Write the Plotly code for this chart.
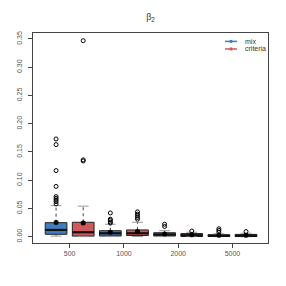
import plotly.graph_objects as go

# ---- data ----
sizes = ["500", "1000", "2000", "5000"]

mix_q1 = [0.0042, 0.0012, 0.0012, 0.0003]
mix_med = [0.0119, 0.0060, 0.0038, 0.0015]
mix_q3 = [0.0248, 0.0106, 0.0070, 0.0035]
mix_lo = [0.0010, 0.0002, 0.0001, 0.0000]
mix_hi = [0.0550, 0.0220, 0.0106, 0.0052]
mix_mean = [0.0250, 0.0078, 0.0048, 0.0025]
mix_out = [
    [0.173, 0.163, 0.117, 0.089, 0.071, 0.068, 0.065, 0.062, 0.058],
    [0.042, 0.031, 0.029, 0.026, 0.024],
    [0.022, 0.018],
    [0.014, 0.011, 0.008],
]

crit_q1 = [0.0010, 0.0020, 0.0003, 0.0002]
crit_med = [0.0078, 0.0060, 0.0025, 0.0015]
crit_q3 = [0.0255, 0.0119, 0.0055, 0.0040]
crit_lo = [0.0000, 0.0003, 0.0000, 0.0000]
crit_hi = [0.0540, 0.0255, 0.0078, 0.0060]
crit_mean = [0.0243, 0.0090, 0.0035, 0.0025]
crit_out = [
    [0.347, 0.136, 0.134],
    [0.044, 0.040, 0.037, 0.034, 0.031],
    [0.010],
    [0.009],
]

y_ticks = [0.00, 0.05, 0.10, 0.15, 0.20, 0.25, 0.30, 0.35]
series_names = ["mix", "criteria"]

MIX_COLOR = "#3F7EBE"
CRIT_COLOR = "#D05A5A"
FONT = "Liberation Sans, Arial, sans-serif"

fig = go.Figure()


def add_series(color, pos, q1, med, q3, lo, hi, mean, out):
    half = 0.4
    cap = 0.2
    fig.add_trace(go.Box(
        x=pos, q1=q1, median=med, q3=q3, lowerfence=q1, upperfence=q3,
        width=0.8, fillcolor=color, line=dict(color="#222222", width=1),
        whiskerwidth=0, boxpoints=False, showlegend=False, hoverinfo="skip",
    ))
    # whiskers (dashed)
    wx, wy = [], []
    for p, a, b, c, d in zip(pos, lo, q1, q3, hi):
        wx += [p, p, None, p, p, None]
        wy += [a, b, None, c, d, None]
    fig.add_trace(go.Scatter(x=wx, y=wy, mode="lines",
                             line=dict(color="#444444", width=1, dash="dot"),
                             showlegend=False, hoverinfo="skip"))
    # staples
    sx, sy = [], []
    for p, a, d in zip(pos, lo, hi):
        sx += [p - cap, p + cap, None, p - cap, p + cap, None]
        sy += [a, a, None, d, d, None]
    fig.add_trace(go.Scatter(x=sx, y=sy, mode="lines",
                             line=dict(color="#999999", width=1),
                             showlegend=False, hoverinfo="skip"))
    # medians
    mx, my = [], []
    for p, m in zip(pos, med):
        mx += [p - half, p + half, None]
        my += [m, m, None]
    fig.add_trace(go.Scatter(x=mx, y=my, mode="lines",
                             line=dict(color="#111111", width=2.2),
                             showlegend=False, hoverinfo="skip"))
    # means
    fig.add_trace(go.Scatter(x=pos, y=mean, mode="markers",
                             marker=dict(color="black", size=5, symbol="circle"),
                             showlegend=False, hoverinfo="skip"))
    # outliers
    ox, oy = [], []
    for p, vals in zip(pos, out):
        ox += [p] * len(vals)
        oy += vals
    fig.add_trace(go.Scatter(x=ox, y=oy, mode="markers",
                             marker=dict(color="black", size=4, symbol="circle-open",
                                         line=dict(width=1)),
                             showlegend=False, hoverinfo="skip"))


mix_pos = [2 * i + 1 for i in range(len(sizes))]
crit_pos = [2 * i + 2 for i in range(len(sizes))]

add_series(MIX_COLOR, mix_pos, mix_q1, mix_med, mix_q3, mix_lo, mix_hi, mix_mean, mix_out)
add_series(CRIT_COLOR, crit_pos, crit_q1, crit_med, crit_q3, crit_lo, crit_hi, crit_mean, crit_out)

# compact R-style legend (top right, no box)
shapes = []
annotations = []
for i, (nm, col) in enumerate(zip(series_names, [MIX_COLOR, CRIT_COLOR])):
    yy = 0.960 - i * 0.036
    shapes.append(dict(type="line", xref="paper", yref="paper", x0=0.817, x1=0.868,
                       y0=yy, y1=yy, line=dict(color=col, width=1.5)))
    shapes.append(dict(type="rect", xref="paper", yref="paper", x0=0.837, x1=0.848,
                       y0=yy - 0.007, y1=yy + 0.007, fillcolor=col, line=dict(width=0)))
    annotations.append(dict(text=nm, xref="paper", yref="paper", x=0.893, y=yy,
                            xanchor="left", yanchor="middle", showarrow=False,
                            font=dict(family=FONT, size=7, color="#333333")))

axis_font = dict(family=FONT, size=7, color="#555555")

# page body adds an 8px offset, so the figure is 278px and margins are shifted
fig.update_layout(
    width=278, height=278,
    margin=dict(l=25, r=18, t=25, b=43),
    paper_bgcolor="white", plot_bgcolor="white",
    boxmode="overlay",
    showlegend=False,
    shapes=shapes,
    annotations=annotations,
    title=dict(text="β<sub>2</sub>", x=0.5, xref="paper", y=0.968, yanchor="middle",
               font=dict(family=FONT, size=9, color="#333333")),
    xaxis=dict(range=[0.15, 8.81], tickvals=[(a + b) / 2 for a, b in zip(mix_pos, crit_pos)],
               ticktext=sizes, ticks="outside", ticklen=4, tickcolor="#444444",
               showline=True, linecolor="#444444", linewidth=1, mirror=True,
               showgrid=False, zeroline=False, tickfont=axis_font, automargin=False),
    yaxis=dict(range=[-0.0112, 0.3606], tickvals=y_ticks,
               ticktext=[f"{v:.2f}" for v in y_ticks], tickangle=-90,
               ticks="outside", ticklen=4, tickcolor="#444444", ticklabelstandoff=3,
               showline=True, linecolor="#444444", linewidth=1, mirror=True,
               showgrid=False, zeroline=False, tickfont=axis_font, automargin=False),
)

fig.write_html("out.html")
